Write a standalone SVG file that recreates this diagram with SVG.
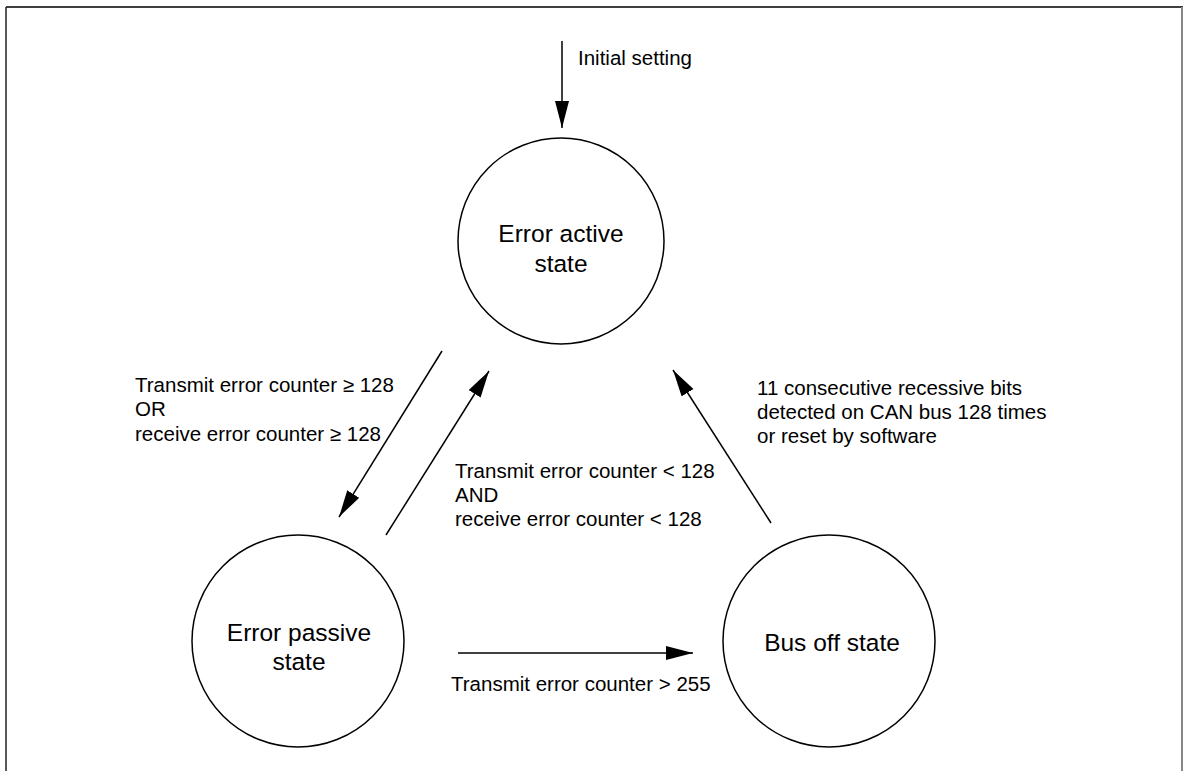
<svg xmlns="http://www.w3.org/2000/svg" width="1185" height="771" viewBox="0 0 1185 771">
<style>
.lbl{font-family:"Liberation Sans",Arial,sans-serif;font-size:20.5px;fill:#000}
.st{font-family:"Liberation Sans",Arial,sans-serif;font-size:24.5px;fill:#000;text-anchor:middle}
.node{fill:#fff;stroke:#000;stroke-width:1.5}
.conn{stroke:#000;stroke-width:1.5;fill:none;marker-end:url(#ah)}
</style>
<defs>
<marker id="ah" markerUnits="userSpaceOnUse" markerWidth="28" markerHeight="16" refX="27" refY="7" orient="auto">
<path d="M0,0 L27,7 L0,14 Z" fill="#000"/>
</marker>
</defs>
<rect width="1185" height="771" fill="#fff"/>
<g id="frame">
<line x1="6" y1="7" x2="1183" y2="7" stroke="#000" stroke-width="1.5"/>
<line x1="6" y1="7" x2="6" y2="771" stroke="#222" stroke-width="1.5"/>
<line x1="1182" y1="7" x2="1182" y2="771" stroke="#888" stroke-width="2"/>
</g>
<g id="connectors">
<line class="conn" x1="562" y1="41" x2="562" y2="128"/>
<line class="conn" x1="442" y1="351" x2="339" y2="517"/>
<line class="conn" x1="386" y1="535" x2="489" y2="371"/>
<line class="conn" x1="771" y1="523" x2="673" y2="370"/>
<line class="conn" x1="458" y1="653" x2="693" y2="653"/>
</g>
<g id="labels">
<text class="lbl" x="578" y="65">Initial setting</text>
<text class="lbl" x="135" y="392">Transmit error counter ≥ 128</text>
<text class="lbl" x="135" y="416">OR</text>
<text class="lbl" x="135" y="441">receive error counter ≥ 128</text>
<text class="lbl" x="455" y="478">Transmit error counter &lt; 128</text>
<text class="lbl" x="455" y="502">AND</text>
<text class="lbl" x="455" y="526">receive error counter &lt; 128</text>
<text class="lbl" x="757" y="395">11 consecutive recessive bits</text>
<text class="lbl" x="757" y="419">detected on CAN bus 128 times</text>
<text class="lbl" x="757" y="443">or reset by software</text>
<text class="lbl" x="451" y="691">Transmit error counter &gt; 255</text>
</g>
<g id="error-active">
<circle class="node" cx="561" cy="241" r="103"/>
<text class="st" x="561" y="242">Error active</text>
<text class="st" x="561" y="272">state</text>
</g>
<g id="error-passive">
<circle class="node" cx="298" cy="641" r="106"/>
<text class="st" x="299" y="641">Error passive</text>
<text class="st" x="299" y="670">state</text>
</g>
<g id="bus-off">
<circle class="node" cx="829" cy="641" r="106"/>
<text class="st" x="832" y="651">Bus off state</text>
</g>
</svg>
